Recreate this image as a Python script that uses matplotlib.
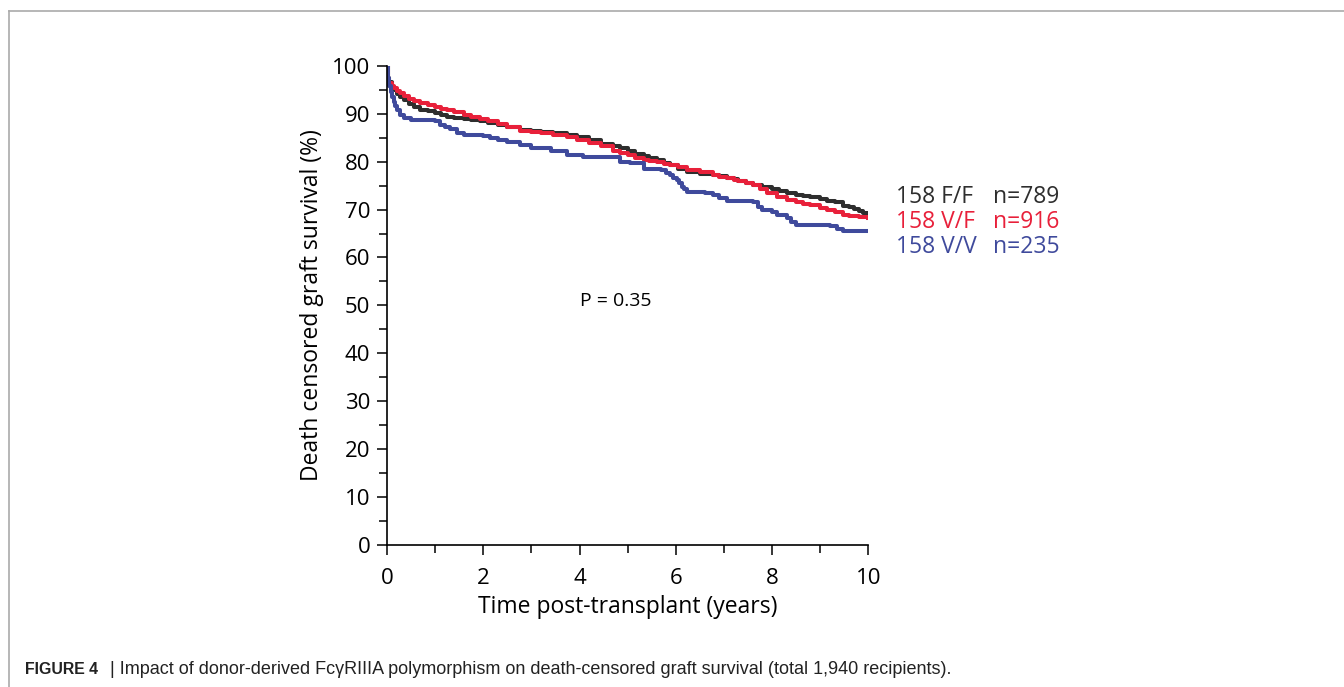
import numpy as np
import matplotlib.pyplot as plt
from matplotlib.lines import Line2D

# survival curves (time in years, survival in %)
t_ff = [0, 0.02, 0.05, 0.1, 0.15, 0.2, 0.27, 0.35, 0.45, 0.55, 0.69, 0.85, 1.0, 1.12, 1.24, 1.4, 1.6, 1.75, 1.93, 2.1, 2.3, 2.5, 2.77, 3.0, 3.2, 3.45, 3.73, 3.95, 4.2, 4.45, 4.7, 4.84, 5.0, 5.15, 5.33, 5.45, 5.6, 5.75, 5.88, 6.05, 6.23, 6.5, 6.78, 6.9, 7.06, 7.2, 7.3, 7.45, 7.61, 7.8, 8.0, 8.15, 8.31, 8.5, 8.65, 8.8, 9.0, 9.15, 9.3, 9.48, 9.6, 9.7, 9.8, 9.9, 10.0]
s_ff = [100, 97.5, 96.6, 95.6, 94.9, 94.2, 93.6, 92.8, 92.0, 91.4, 90.8, 90.5, 90.2, 89.8, 89.4, 89.2, 88.9, 88.7, 88.4, 88.0, 87.6, 87.2, 86.6, 86.4, 86.2, 85.9, 85.6, 85.1, 84.5, 83.8, 83.2, 82.8, 82.3, 81.7, 81.1, 80.7, 80.3, 79.8, 79.3, 78.5, 77.8, 77.5, 77.2, 77.0, 76.7, 76.4, 76.0, 75.6, 75.2, 74.8, 74.3, 73.8, 73.4, 73.0, 72.8, 72.6, 72.2, 71.9, 71.5, 70.8, 70.5, 70.2, 69.8, 69.3, 68.7]

t_vf = [0, 0.02, 0.05, 0.1, 0.15, 0.2, 0.27, 0.35, 0.45, 0.55, 0.69, 0.85, 1.0, 1.12, 1.24, 1.4, 1.6, 1.75, 1.93, 2.1, 2.3, 2.5, 2.77, 3.0, 3.2, 3.45, 3.73, 3.95, 4.2, 4.45, 4.7, 4.84, 5.0, 5.15, 5.33, 5.45, 5.6, 5.75, 5.88, 6.05, 6.23, 6.5, 6.78, 6.9, 7.06, 7.2, 7.3, 7.45, 7.61, 7.75, 7.9, 8.1, 8.31, 8.5, 8.65, 8.8, 9.0, 9.15, 9.3, 9.48, 9.6, 9.7, 9.8, 9.9, 10.0]
s_vf = [100, 97.2, 96.5, 95.8, 95.3, 94.8, 94.3, 93.8, 93.2, 92.7, 92.2, 91.8, 91.4, 91.1, 90.8, 90.3, 89.8, 89.3, 88.9, 88.4, 87.8, 87.2, 86.5, 86.2, 85.9, 85.6, 85.2, 84.6, 84.0, 83.2, 82.3, 81.8, 81.3, 80.8, 80.4, 80.2, 79.9, 79.6, 79.3, 78.8, 78.3, 77.8, 77.2, 76.9, 76.5, 76.2, 75.9, 75.6, 75.2, 74.4, 73.5, 72.7, 72.0, 71.5, 71.2, 70.9, 70.3, 69.9, 69.5, 68.9, 68.7, 68.6, 68.5, 68.4, 68.2]

t_vv = [0, 0.02, 0.05, 0.08, 0.11, 0.14, 0.17, 0.2, 0.27, 0.35, 0.5, 1.0, 1.1, 1.2, 1.3, 1.45, 1.6, 2.0, 2.14, 2.3, 2.5, 2.77, 3.0, 3.4, 3.73, 4.07, 4.6, 4.85, 5.05, 5.33, 5.7, 5.8, 5.88, 5.95, 6.02, 6.07, 6.12, 6.18, 6.23, 6.6, 6.78, 6.9, 7.06, 7.61, 7.7, 7.8, 8.0, 8.1, 8.31, 8.4, 8.5, 9.0, 9.2, 9.35, 9.48, 10.0]
s_vv = [100, 97.5, 95.8, 94.6, 93.5, 92.5, 91.6, 90.8, 89.8, 89.1, 88.7, 88.4, 87.7, 87.3, 86.8, 86.1, 85.6, 85.4, 84.9, 84.6, 84.2, 83.5, 82.9, 82.3, 81.4, 80.9, 80.9, 80.0, 79.8, 78.4, 78.2, 77.7, 77.2, 76.7, 76.2, 75.5, 74.8, 74.2, 73.6, 73.4, 73.1, 72.5, 71.9, 71.5, 70.6, 69.9, 69.6, 68.9, 68.2, 67.4, 66.8, 66.8, 66.5, 66.0, 65.6, 65.6]

groups = ["158 F/F", "158 V/F", "158 V/V"]
counts = ["n=789", "n=916", "n=235"]
colors = ["#2e2e2e", "#e8203a", "#3f4a9c"]

plt.rcParams['font.family'] = ['Open Sans', 'DejaVu Sans']

fig = plt.figure(figsize=(13.44, 6.87), dpi=100)
ax = fig.add_axes([0.288, 0.207, 0.358, 0.697])

for t, s, c in zip([t_ff, t_vf, t_vv], [s_ff, s_vf, s_vv], colors):
    ax.step(t, s, where='post', color=c, linewidth=2.9)

ax.set_xlim(0, 10)
ax.set_ylim(0, 100)
ax.set_xticks(np.arange(0, 11, 2))
ax.set_xticks(np.arange(1, 10, 2), minor=True)
ax.set_yticks(np.arange(0, 101, 10))
ax.set_yticks(np.arange(5, 100, 10), minor=True)
ax.spines['top'].set_visible(False)
ax.spines['right'].set_visible(False)
for sp in ['left', 'bottom']:
    ax.spines[sp].set_linewidth(1.2)
ax.tick_params(which='both', direction='out', width=1.1, labelsize=16)
ax.tick_params(which='major', length=7)
ax.tick_params(which='minor', length=6)
ax.tick_params(axis='x', pad=10)
ax.tick_params(axis='y', pad=5)
ax.set_xlabel('Time post-transplant (years)', fontsize=16.5, labelpad=4)
ax.set_ylabel('Death censored graft survival (%)', fontsize=16.5, labelpad=6)
ax.margins(0)

ax.text(0.4, 0.51, 'P = 0.35', transform=ax.transAxes, fontsize=14,
        ha='left', va='center')

for i, (g, n, c) in enumerate(zip(groups, counts, colors)):
    y = 0.713 - i * 0.0365
    fig.text(0.6665, y, g, color=c, fontsize=16.5, va='center')
    fig.text(0.7385, y, n, color=c, fontsize=16.5, va='center')

# page frame lines
fig.add_artist(Line2D([0.0067, 1.0], [0.984, 0.984], transform=fig.transFigure,
                      color='#aaaaaa', linewidth=1.2))
fig.add_artist(Line2D([0.0067, 0.0067], [0.0, 0.984], transform=fig.transFigure,
                      color='#aaaaaa', linewidth=1.2))

cap_font = ['Liberation Sans', 'DejaVu Sans']
fig.text(0.0186, 0.025, 'FIGURE 4', fontsize=11.4, fontweight='bold',
         family=cap_font, va='center', color='#222222')
fig.text(0.0815, 0.025, '| Impact of donor-derived Fc\u03b3RIIIA polymorphism on death-censored graft survival (total 1,940 recipients).',
         fontsize=13, family=cap_font, va='center', color='#222222')

fig.savefig('out.png', dpi=100)
